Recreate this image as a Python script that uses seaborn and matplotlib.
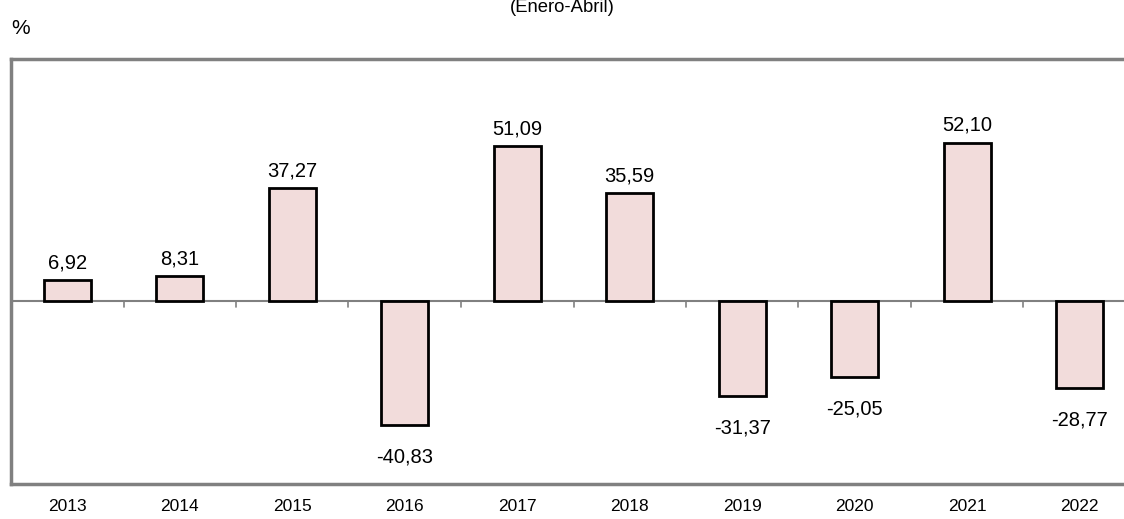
import matplotlib
matplotlib.use("Agg")
import matplotlib.pyplot as plt
import seaborn as sns
import pandas as pd

# Data
years = ["2013", "2014", "2015", "2016", "2017", "2018", "2019", "2020", "2021", "2022"]
values = [6.92, 8.31, 37.27, -40.83, 51.09, 35.59, -31.37, -25.05, 52.10, -28.77]
value_labels = ["6,92", "8,31", "37,27", "-40,83", "51,09", "35,59", "-31,37", "-25,05", "52,10", "-28,77"]

df = pd.DataFrame({"year": years, "value": values})

sns.set_theme(style="white")
plt.rcParams["font.family"] = ["Liberation Sans", "DejaVu Sans"]
plt.rcParams["text.color"] = "black"
plt.rcParams["xtick.color"] = "black"

fig = plt.figure(figsize=(11.24, 5.19), dpi=100)
ax = fig.add_axes([11 / 1124, 1 - 484 / 519, 1125 / 1124, 425 / 519])

sns.barplot(data=df, x="year", y="value", color="#f2dcdb", edgecolor="black",
            linewidth=2, width=0.42, saturation=1, ax=ax)

ax.set_ylim(-60.2, 79.6)
ax.set_xlim(-0.5, len(years) - 0.5)

# zero line and small category ticks
ax.axhline(0, color="#808080", linewidth=1.5, zorder=0)
for i in range(len(years)):
    ax.plot([i - 0.5, i - 0.5], [0, -2.0], color="#808080", linewidth=1.2, zorder=0)

# value labels
for i, (v, lab) in enumerate(zip(values, value_labels)):
    if v >= 0:
        ax.annotate(lab, (i, v), xytext=(0, 5.5), textcoords="offset points",
                    ha="center", va="bottom", fontsize=14.5)
    else:
        ax.annotate(lab, (i, v), xytext=(0, -16), textcoords="offset points",
                    ha="center", va="top", fontsize=14.5)

for s in ax.spines.values():
    s.set_color("#808080")
    s.set_linewidth(2.5)

ax.set_yticks([])
ax.tick_params(axis="x", length=0, pad=11, labelsize=12.5)
ax.set_xlabel("")
ax.set_ylabel("")

fig.text(11 / 1124, 1 - 28 / 519, "%", fontsize=15, ha="left", va="center")
fig.text(562 / 1124, 1 - 8 / 519, "(Enero-Abril)", fontsize=13.3, ha="center", va="center")

fig.savefig("out.png", dpi=100)
